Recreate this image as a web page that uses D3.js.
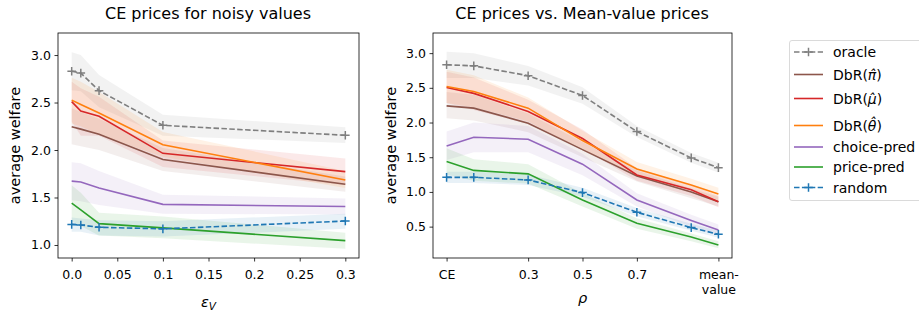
<!DOCTYPE html>
<html><head><meta charset="utf-8">
<script src="https://cdn.jsdelivr.net/npm/d3@7"></script>
<style>body{margin:0;background:#fff}svg{display:block;font-family:"DejaVu Sans",sans-serif}</style>
</head><body><svg id="c" width="919" height="318"></svg>
<script>
// ---------- data ----------
const seriesNames = ["oracle","DbR(π̂)","DbR(μ̂)","DbR(θ̂)","choice-pred","price-pred","random"];
const seriesColors = ["#7f7f7f","#8c564b","#d62728","#ff7f0e","#9467bd","#2ca02c","#1f77b4"];
const seriesDashed = [true,false,false,false,false,false,true];

// Left panel: x = epsilon_V
const xNoise = [0, 0.01, 0.03, 0.1, 0.3];
const noiseMean = [
  [2.83, 2.81, 2.625, 2.26, 2.155],
  [2.245, 2.22, 2.165, 1.90, 1.64],
  [2.51, 2.41, 2.355, 1.965, 1.772],
  [2.525, 2.48, 2.39, 2.055, 1.684],
  [1.672, 1.663, 1.60, 1.428, 1.405],
  [1.44, 1.37, 1.225, 1.18, 1.046],
  [1.217, 1.21, 1.186, 1.17, 1.252]
];
const noiseLow = [
  [2.63, 2.62, 2.45, 2.15, 2.075],
  [2.06, 2.04, 2.00, 1.78, 1.56],
  [2.30, 2.15, 2.15, 1.82, 1.63],
  [2.28, 2.25, 2.16, 1.93, 1.60],
  [1.47, 1.46, 1.42, 1.33, 1.32],
  [1.25, 1.20, 1.10, 1.07, 0.96],
  [1.14, 1.14, 1.10, 1.09, 1.17]
];
const noiseHigh = [
  [3.03, 3.00, 2.79, 2.37, 2.24],
  [2.44, 2.40, 2.33, 2.02, 1.72],
  [2.72, 2.65, 2.56, 2.10, 1.91],
  [2.76, 2.72, 2.61, 2.19, 1.78],
  [1.87, 1.86, 1.78, 1.53, 1.49],
  [1.63, 1.55, 1.34, 1.30, 1.13],
  [1.29, 1.28, 1.26, 1.25, 1.33]
];
const noiseTicks = [0, 0.05, 0.1, 0.15, 0.2, 0.25, 0.3];
const noiseTickLabels = ["0.0","0.05","0.1","0.15","0.2","0.25","0.3"];
const noiseYTicks = [1.0, 1.5, 2.0, 2.5, 3.0];

// Right panel: x = rho
const xRho = [0, 0.1, 0.3, 0.5, 0.7, 0.9, 1.0];
const rhoMean = [
  [2.832, 2.817, 2.675, 2.39, 1.87, 1.49, 1.35],
  [2.24, 2.207, 1.99, 1.61, 1.23, 1.0, 0.86],
  [2.505, 2.42, 2.16, 1.77, 1.245, 1.03, 0.86],
  [2.52, 2.447, 2.207, 1.74, 1.33, 1.10, 0.97],
  [1.663, 1.788, 1.76, 1.40, 0.885, 0.59, 0.45],
  [1.437, 1.31, 1.26, 0.885, 0.55, 0.35, 0.236],
  [1.21, 1.21, 1.173, 0.99, 0.707, 0.486, 0.39]
];
const rhoLow = [
  [2.64, 2.64, 2.535, 2.27, 1.79, 1.42, 1.28],
  [2.06, 2.03, 1.86, 1.50, 1.15, 0.91, 0.79],
  [2.28, 2.18, 1.98, 1.63, 1.16, 0.94, 0.78],
  [2.28, 2.22, 2.02, 1.60, 1.24, 1.02, 0.88],
  [1.46, 1.57, 1.57, 1.24, 0.79, 0.50, 0.37],
  [1.25, 1.16, 1.12, 0.79, 0.47, 0.29, 0.19],
  [1.13, 1.13, 1.10, 0.93, 0.65, 0.44, 0.34]
];
const rhoHigh = [
  [3.02, 3.00, 2.815, 2.51, 1.95, 1.56, 1.42],
  [2.44, 2.40, 2.13, 1.72, 1.31, 1.05, 0.93],
  [2.73, 2.65, 2.33, 1.90, 1.34, 1.10, 0.94],
  [2.76, 2.68, 2.36, 1.88, 1.43, 1.19, 1.06],
  [1.87, 2.00, 1.95, 1.55, 0.98, 0.67, 0.53],
  [1.63, 1.47, 1.40, 0.98, 0.62, 0.40, 0.29],
  [1.29, 1.29, 1.25, 1.06, 0.77, 0.54, 0.44]
];
const rhoTicks = [0, 0.3, 0.5, 0.7, 1.0];
const rhoTickLabels = ["CE","0.3","0.5","0.7","mean-\nvalue"];
const rhoYTicks = [0.5, 1.0, 1.5, 2.0, 2.5, 3.0];

// ---------- drawing ----------
const svg = d3.select("#c");
const FS = 12.5;   // tick labels
const LFS = 14.5;  // axis labels
const TFS = 16;    // titles
const GFS = 14;    // legend

function panel(id, cfg) {
  const {x0, x1, y0, y1, xdom, ydom, xs, mean, lo, hi, xticks, xlabels, yticks, title, xlabel, ylabx} = cfg;
  const x = d3.scaleLinear().domain(xdom).range([x0, x1]);
  const y = d3.scaleLinear().domain(ydom).range([y1, y0]);
  const g = svg.append("g");
  svg.append("clipPath").attr("id", id).append("rect")
    .attr("x", x0).attr("y", y0).attr("width", x1 - x0).attr("height", y1 - y0);
  const plot = g.append("g").attr("clip-path", `url(#${id})`);
  const area = d3.area().x((d, i) => x(xs[i])).y0(d => y(d[0])).y1(d => y(d[1]));
  const line = d3.line().x((d, i) => x(xs[i])).y(d => y(d));
  for (let s = 0; s < mean.length; s++) {
    plot.append("path").datum(lo[s].map((v, i) => [v, hi[s][i]]))
      .attr("d", area).attr("fill", seriesColors[s]).attr("fill-opacity", 0.1);
  }
  for (let s = 0; s < mean.length; s++) {
    plot.append("path").datum(mean[s]).attr("d", line)
      .attr("fill", "none").attr("stroke", seriesColors[s]).attr("stroke-width", 1.6)
      .attr("stroke-dasharray", seriesDashed[s] ? "5.5,2.4" : null);
    if (seriesDashed[s]) {
      mean[s].forEach((v, i) => {
        const cx = x(xs[i]), cy = y(v);
        plot.append("path").attr("d", `M${cx-4.3},${cy}H${cx+4.3}M${cx},${cy-4.3}V${cy+4.3}`)
          .attr("stroke", seriesColors[s]).attr("stroke-width", 1.5);
      });
    }
  }
  // frame
  g.append("rect").attr("x", x0).attr("y", y0).attr("width", x1 - x0).attr("height", y1 - y0)
    .attr("fill", "none").attr("stroke", "#000").attr("stroke-width", 0.8);
  // axes
  const ax = g.append("g").attr("transform", `translate(0,${y1})`)
    .call(d3.axisBottom(x).tickValues(xticks).tickSize(3.5).tickSizeOuter(0).tickPadding(3.5).tickFormat(() => ""));
  ax.select(".domain").remove();
  ax.selectAll(".tick line").attr("stroke-width", 0.8);
  ax.selectAll(".tick").each(function (d, i) {
    const lines = xlabels[i].split("\n");
    const t = d3.select(this).select("text").attr("font-size", FS).attr("font-family", "DejaVu Sans")
      .attr("fill", "#000").attr("dy", null).attr("y", 0);
    t.selectAll("tspan").data(lines).join("tspan").attr("x", 0)
      .attr("y", (l, k) => 20.5 + k * 15).text(l => l);
  });
  const ay = g.append("g").attr("transform", `translate(${x0},0)`)
    .call(d3.axisLeft(y).tickValues(yticks).tickSize(3.5).tickSizeOuter(0).tickPadding(3.5).tickFormat(d3.format(".1f")));
  ay.select(".domain").remove();
  ay.selectAll(".tick line").attr("stroke-width", 0.8);
  ay.selectAll(".tick text").attr("font-size", FS).attr("font-family", "DejaVu Sans").attr("fill", "#000");
  // title
  g.append("text").attr("x", (x0 + x1) / 2 - 0.5).attr("y", 18.5).attr("text-anchor", "middle")
    .attr("font-size", TFS).text(title);
  // y label
  g.append("text").attr("transform", `translate(${ylabx},${(y0 + y1) / 2}) rotate(-90)`)
    .attr("text-anchor", "middle").attr("font-size", LFS).text("average welfare");
  // x label
  xlabel(g, (x0 + x1) / 2);
}

panel("clipL", {
  x0: 58, x1: 359, y0: 33, y1: 258, xdom: [-0.015, 0.315], ydom: [0.863, 3.232],
  xs: xNoise, mean: noiseMean, lo: noiseLow, hi: noiseHigh,
  xticks: noiseTicks, xlabels: noiseTickLabels, yticks: noiseYTicks,
  title: "CE prices for noisy values", ylabx: 20,
  xlabel: (g, cx) => {
    const t = g.append("text").attr("x", cx).attr("y", 307).attr("text-anchor", "middle").attr("font-size", LFS);
    t.append("tspan").attr("font-style", "italic").text("ε");
    t.append("tspan").attr("font-style", "italic").attr("font-size", 10.5).attr("dy", 2.5).text("V");
  }
});

panel("clipR", {
  x0: 433, x1: 732, y0: 33, y1: 258, xdom: [-0.05, 1.05], ydom: [0.048, 3.29],
  xs: xRho, mean: rhoMean, lo: rhoLow, hi: rhoHigh,
  xticks: rhoTicks, xlabels: rhoTickLabels, yticks: rhoYTicks,
  title: "CE prices vs. Mean-value prices", ylabx: 396,
  xlabel: (g, cx) => {
    g.append("text").attr("x", cx).attr("y", 303).attr("text-anchor", "middle").attr("font-size", LFS)
      .attr("font-style", "italic").text("ρ");
  }
});

// legend
const lg = svg.append("g");
lg.append("rect").attr("x", 789.5).attr("y", 40.5).attr("width", 140).attr("height", 160).attr("rx", 2.5)
  .attr("fill", "#fff").attr("fill-opacity", 0.8).attr("stroke", "#d0d0d0").attr("stroke-width", 0.8);
const legY = [52, 74.5, 98.5, 125.5, 147, 167, 187.5];
seriesNames.forEach((name, s) => {
  const yy = legY[s];
  lg.append("line").attr("x1", 794).attr("x2", 823).attr("y1", yy).attr("y2", yy)
    .attr("stroke", seriesColors[s]).attr("stroke-width", 1.6)
    .attr("stroke-dasharray", seriesDashed[s] ? "5.5,2.4" : null);
  if (seriesDashed[s]) {
    lg.append("path").attr("d", `M${808.5-4.3},${yy}H${808.5+4.3}M${808.5},${yy-4.3}V${yy+4.3}`)
      .attr("stroke", seriesColors[s]).attr("stroke-width", 1.5);
  }
  const t = lg.append("text").attr("x", 833).attr("y", yy + 5).attr("font-size", GFS);
  const m = name.match(/^(DbR\()(.+)(\))$/);
  if (m) {
    t.append("tspan").text(m[1]);
    t.append("tspan").attr("font-style", "italic").text(m[2]);
    t.append("tspan").text(m[3]);
  } else t.text(name);
});
</script></body></html>
